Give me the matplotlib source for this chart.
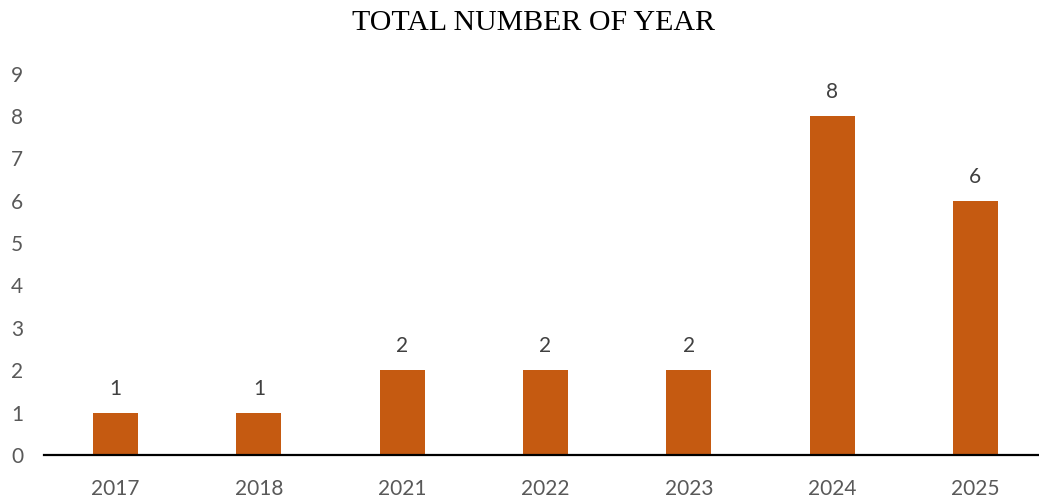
import matplotlib
matplotlib.use("Agg")
import matplotlib.pyplot as plt

years = ["2017", "2018", "2021", "2022", "2023", "2024", "2025"]
counts = [1, 1, 2, 2, 2, 8, 6]
title = "TOTAL NUMBER OF YEAR"

W, H = 1039, 499
fig = plt.figure(figsize=(W / 100, H / 100), dpi=100)
left, right = 44 / W, 1047 / W
bottom, top = (H - 455) / H, (H - 73.6) / H
ax = fig.add_axes([left, bottom, right - left, top - bottom])

x = list(range(len(years)))
bars = ax.bar(x, counts, width=0.315, color="#C55A11", zorder=2)
ax.set_xlim(-0.5, len(years) - 0.5)
ax.set_ylim(0, 9)
ax.set_yticks(range(0, 10))
ax.set_xticks(x)
ax.set_xticklabels(years)

for s in ["top", "right", "left"]:
    ax.spines[s].set_visible(False)
ax.spines["bottom"].set_color("black")
ax.spines["bottom"].set_linewidth(1.6)
ax.tick_params(axis="both", length=0, labelsize=15, labelcolor="#595959")
ax.tick_params(axis="x", pad=17)
ax.tick_params(axis="y", pad=15)
for lab in ax.get_xticklabels() + ax.get_yticklabels():
    lab.set_family("Lato")

for xi, v in zip(x, counts):
    ax.annotate(str(v), (xi, v), xytext=(0, 10), textcoords="offset points",
                ha="center", va="bottom", fontsize=15, color="#404040", family="Lato")

fig.text(534 / W, (H - 23.5) / H, title, ha="center", va="center",
         fontsize=21.5, family="Liberation Serif", color="black")

fig.savefig("out.png", dpi=100)
